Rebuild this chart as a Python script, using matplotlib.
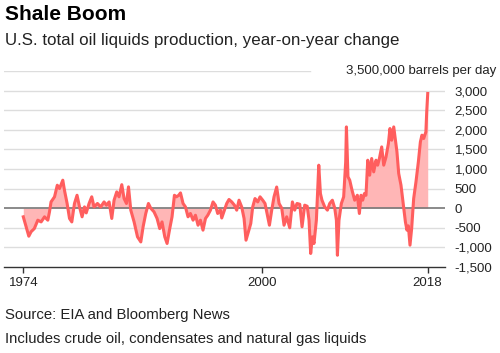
import matplotlib
matplotlib.use("Agg")
import matplotlib.pyplot as plt

plt.rcParams['font.family'] = ['Liberation Sans', 'DejaVu Sans']

# year-on-year change, thousand barrels per day
years = [
    1974.0, 1974.6, 1974.85, 1975.2, 1975.58, 1975.94, 1976.31, 1976.67, 1976.85, 1977.02,
    1977.4, 1977.7, 1977.94, 1978.3, 1978.48, 1978.77, 1979.03, 1979.28, 1979.57, 1979.85,
    1980.12, 1980.4, 1980.66, 1980.85, 1981.16, 1981.45, 1981.7, 1982.07, 1982.43, 1982.79,
    1983.05, 1983.34, 1983.63, 1983.88, 1984.17, 1984.42, 1984.72, 1984.97, 1985.23, 1985.45,
    1985.7, 1986.06, 1986.43, 1986.79, 1987.04, 1987.33, 1987.62, 1987.87, 1988.23, 1988.56,
    1988.85, 1989.1, 1989.4, 1989.65, 1989.94, 1990.19, 1990.45, 1990.67, 1990.92, 1991.11,
    1991.39, 1991.65, 1991.93, 1992.19, 1992.48, 1992.74, 1993.02, 1993.28, 1993.56, 1993.83,
    1994.08, 1994.37, 1994.65, 1994.91, 1995.16, 1995.46, 1995.6, 1995.89, 1996.14, 1996.39,
    1996.69, 1996.98, 1997.23, 1997.48, 1997.77, 1998.03, 1998.24, 1998.5, 1998.76, 1998.97,
    1999.22, 1999.52, 1999.77, 2000.06, 2000.31, 2000.57, 2000.79, 2001.04, 2001.29, 2001.58,
    2001.84, 2002.13, 2002.38, 2002.67, 2003.0, 2003.29, 2003.54, 2003.79, 2004.09, 2004.34,
    2004.63, 2004.9, 2005.1, 2005.28, 2005.47, 2005.64, 2005.9, 2006.16, 2006.34, 2006.51,
    2006.81, 2007.1, 2007.35, 2007.64, 2007.9, 2008.08, 2008.19, 2008.36, 2008.62, 2008.87,
    2009.09, 2009.17, 2009.34, 2009.53, 2009.78, 2010.07, 2010.36, 2010.58, 2010.76, 2010.94,
    2011.13, 2011.3, 2011.49, 2011.7, 2011.92, 2012.14, 2012.39, 2012.57, 2012.76, 2013.01,
    2013.23, 2013.48, 2013.74, 2013.91, 2014.1, 2014.32, 2014.5, 2014.67, 2014.86, 2015.11,
    2015.37, 2015.59, 2015.76, 2015.91, 2016.09, 2016.27, 2016.49, 2016.74, 2017.0, 2017.22,
    2017.39, 2017.58, 2017.82, 2017.91, 2018.02,
]
change = [
    -220, -714, -600, -520, -306, -350, -220, -306, -94, 160,
    290, 586, 500, 714, 459, 120, -262, -350, 120, 330,
    33, -220, 33, -120, 120, 290, 33, 120, 33, 160,
    77, 160, -262, 204, 416, 290, 600, 246, 120, 544,
    -50, -350, -730, -860, -475, -135, 120, 0, -94, -262,
    -520, -350, -730, -900, -520, -220, 330, 290, 330, 390,
    120, 33, -220, -135, -306, -180, -434, -306, -560, -262,
    -180, -50, 160, 77, -135, -50, -250, -50, 120, 222,
    160, 77, -50, 204, 33, -262, -816, -604, -390, 33,
    246, 160, 290, 204, 120, -180, -434, -50, 290, 540,
    120, 0, -434, -220, -500, 160, -50, 120, 100, -476,
    77, 50, -306, -1155, -730, -900, -306, 1097, 374, 204,
    33, -50, 120, 204, 0, -306, -1200, -306, 120, 290,
    1180, 2073, 800, 714, 459, 204, 330, -135, 330, 204,
    374, 330, 1224, 841, 1267, 926, 1224, 1097, 1267, 1563,
    1097, 1308, 1650, 2032, 1734, 2073, 1734, 1436, 885, 586,
    77, -350, -560, -450, -943, -520, 246, 671, 1180, 1690,
    1862, 1777, 1946, 2456, 2925,
]

x_ticks = [1974, 2000, 2018]
y_ticks = [-1500, -1000, -500, 0, 500, 1000, 1500, 2000, 2500, 3000]

line_color = "#ff5e5e"
fill_color = "#ffb6b6"

fig = plt.figure(figsize=(5, 3.53), dpi=100)
ax = fig.add_axes([0.008, 0.2436, 0.882, 0.5554])

ax.fill_between(years, change, 0, color=fill_color, linewidth=0, zorder=2)
ax.axhline(0, color="#777777", linewidth=1.2, zorder=3)
ax.plot(years, change, color=line_color, linewidth=2.2, zorder=4,
        solid_joinstyle="round")

ax.set_xlim(1971.9, 2019.9)
ax.set_ylim(-1500, 3500)

# gridlines
for v in y_ticks[1:]:
    if v != 0:
        ax.axhline(v, color="#dddddd", linewidth=1, zorder=1)
ax.axhline(3500, xmax=0.694, color="#dddddd", linewidth=1, zorder=1)
ax.text(1.116, 3500, "3,500,000 barrels per day", transform=ax.get_yaxis_transform(),
        ha="right", va="center", fontsize=9.5, color="#222222")

ax.set_yticks(y_ticks)
ax.set_yticklabels([f"{v:,}" for v in y_ticks])
ax.yaxis.tick_right()
ax.tick_params(axis="y", length=0, pad=7, labelsize=9.5, labelcolor="#222222")

ax.set_xticks(x_ticks)
ax.set_xticklabels([str(y) for y in x_ticks])
ax.tick_params(axis="x", length=4, width=1, color="#333333", pad=3,
               labelsize=9.5, labelcolor="#222222")

for s in ["top", "left", "right"]:
    ax.spines[s].set_visible(False)
ax.spines["bottom"].set_color("#333333")
ax.spines["bottom"].set_linewidth(1)
ax.spines["bottom"].set_zorder(5)

fig.text(0.01, 0.943, "Shale Boom", fontsize=15, fontweight="bold", va="baseline")
fig.text(0.01, 0.8725, "U.S. total oil liquids production, year-on-year change",
         fontsize=12.2, va="baseline", color="#222222")
fig.text(0.01, 0.0955, "Source: EIA and Bloomberg News", fontsize=10.7,
         va="baseline", color="#222222")
fig.text(0.01, 0.0292, "Includes crude oil, condensates and natural gas liquids",
         fontsize=10.7, va="baseline", color="#222222")

fig.savefig("out.png", dpi=100)
